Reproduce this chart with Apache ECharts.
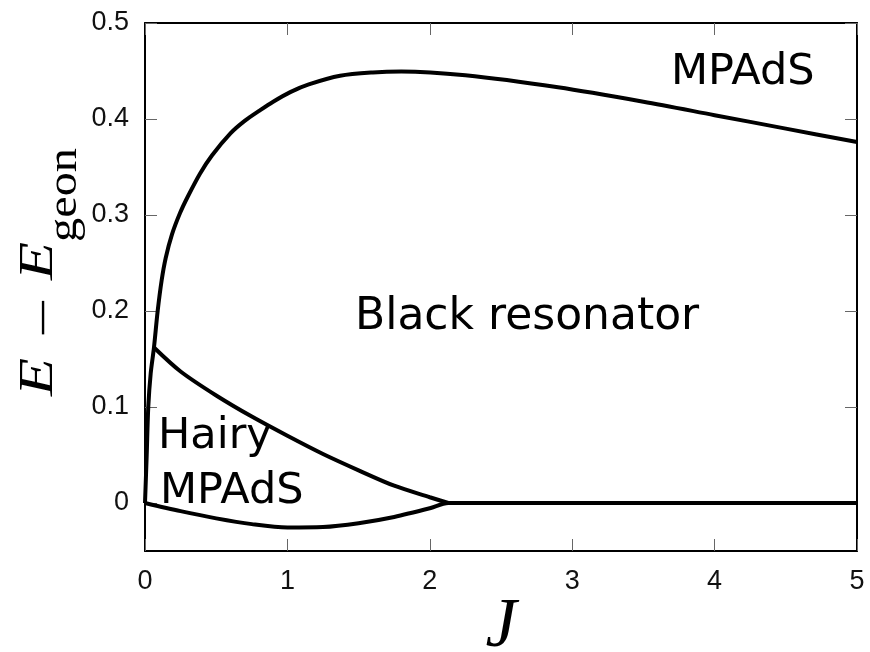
<!DOCTYPE html>
<html>
<head>
<meta charset="utf-8">
<script src="https://cdn.jsdelivr.net/npm/echarts@6/dist/echarts.min.js"></script>
<style>
  html, body { margin: 0; padding: 0; background: #fff; }
  #chart { width: 870px; height: 652px; }
</style>
</head>
<body>
<div id="chart"></div>
<script>
// Phase boundaries in the (J, E - E_geon) plane
const xTicks = [0, 1, 2, 3, 4, 5];
const yTicks = [0, 0.1, 0.2, 0.3, 0.4, 0.5];

// Upper boundary: black resonators below, MPAdS above
const mpadsJ = [0, 0.012, 0.023, 0.04, 0.063, 0.089, 0.117, 0.145, 0.19, 0.246, 0.3, 0.386, 0.47, 0.6, 0.7, 0.807, 0.9, 1.02, 1.15, 1.37, 1.6, 1.8, 2.25, 2.9, 3.5, 4, 4.5, 5];
const mpadsE = [0, 0.05, 0.1, 0.135, 0.162, 0.2, 0.232, 0.255, 0.28, 0.302, 0.319, 0.343, 0.362, 0.385, 0.398, 0.409, 0.418, 0.428, 0.436, 0.445, 0.4485, 0.4495, 0.4455, 0.433, 0.418, 0.404, 0.39, 0.376];

// Upper edge of the hairy MPAdS region
const hairyTopJ = [0.063, 0.25, 0.5, 0.75, 1.0, 1.25, 1.5, 1.75, 2.0, 2.13];
const hairyTopE = [0.162, 0.137, 0.112, 0.09, 0.07, 0.051, 0.034, 0.018, 0.006, 0];

// Lower edge of the hairy region, continuing along E = E_geon
const hairyBotJ = [0, 0.25, 0.5, 0.75, 1.0, 1.25, 1.5, 1.75, 2.0, 2.13, 5];
const hairyBotE = [0, -0.0085, -0.016, -0.022, -0.0255, -0.025, -0.021, -0.0145, -0.0055, 0, 0];

const zip = (xs, ys) => xs.map((x, i) => [x, ys[i]]);

const tickStyle = { show: true, inside: true, length: 12, lineStyle: { color: '#666', width: 1 } };
const lineAxis = { show: true, onZero: false, lineStyle: { color: '#000', width: 2 } };
const labelFont = { fontFamily: 'Liberation Sans', fontSize: 27, color: '#111' };

const chart = echarts.init(document.getElementById('chart'), null, { renderer: 'canvas' });

const curve = (data) => ({
  type: 'line',
  data: data,
  showSymbol: false,
  smooth: 0.3,
  lineStyle: { color: '#000', width: 4 },
  animation: false
});

chart.setOption({
  animation: false,
  backgroundColor: '#fff',
  grid: { left: 145, right: 13, top: 23, bottom: 101, containLabel: false },
  xAxis: [
    {
      type: 'value', min: 0, max: 5, interval: 1, position: 'bottom',
      axisLine: lineAxis, axisTick: tickStyle, splitLine: { show: false },
      axisLabel: Object.assign({ margin: 17, customValues: xTicks }, labelFont)
    },
    {
      type: 'value', min: 0, max: 5, interval: 1, position: 'top',
      axisLine: lineAxis, axisTick: tickStyle, splitLine: { show: false },
      axisLabel: { show: false }
    }
  ],
  yAxis: [
    {
      type: 'value', min: -0.05, max: 0.5, position: 'left',
      axisLine: lineAxis,
      axisTick: Object.assign({ customValues: yTicks }, tickStyle),
      splitLine: { show: false },
      axisLabel: Object.assign({ margin: 16, customValues: yTicks, formatter: v => String(+v.toFixed(2)) }, labelFont)
    },
    {
      type: 'value', min: -0.05, max: 0.5, position: 'right',
      axisLine: lineAxis,
      axisTick: Object.assign({ customValues: yTicks }, tickStyle),
      splitLine: { show: false },
      axisLabel: { show: false }
    }
  ],
  series: [
    curve(zip(mpadsJ, mpadsE)),
    curve(zip(hairyTopJ, hairyTopE)),
    curve(zip(hairyBotJ, hairyBotE))
  ],
  graphic: [
    // region names
    { type: 'text', style: { text: 'Black resonator', x: 355, y: 318, font: '44px "DejaVu Sans"', fill: '#000', verticalAlign: 'middle' } },
    { type: 'text', style: { text: 'MPAdS', x: 671, y: 73, font: '43px "DejaVu Sans"', fill: '#000', verticalAlign: 'middle' } },
    { type: 'text', style: { text: 'Hairy', x: 158, y: 437, font: '43px "DejaVu Sans"', fill: '#000', verticalAlign: 'middle' } },
    { type: 'text', style: { text: 'MPAdS', x: 160, y: 492, font: '43px "DejaVu Sans"', fill: '#000', verticalAlign: 'middle' } },
    // x-axis title
    { type: 'text', style: { text: 'J', x: 501, y: 628, font: 'italic 70px "Liberation Serif"', fill: '#000', align: 'center', verticalAlign: 'middle' } },
    // y-axis title, read bottom to top: E − E_geon
    { type: 'text', x: 39, y: 377, rotation: Math.PI / 2, scaleX: 1.3, style: { text: 'E', x: 0, y: 0, font: 'italic 48px "Liberation Serif"', fill: '#000', align: 'center', verticalAlign: 'middle' } },
    { type: 'text', x: 46, y: 318, rotation: Math.PI / 2, scaleX: 1.5, style: { text: '\u2212', x: 0, y: 0, font: '48px "Liberation Serif"', fill: '#000', align: 'center', verticalAlign: 'middle' } },
    { type: 'text', x: 39, y: 261, rotation: Math.PI / 2, scaleX: 1.3, style: { text: 'E', x: 0, y: 0, font: 'italic 48px "Liberation Serif"', fill: '#000', align: 'center', verticalAlign: 'middle' } },
    { type: 'text', x: 65, y: 195, rotation: Math.PI / 2, scaleX: 1.15, style: { text: 'geon', x: 0, y: 0, font: '42px "Liberation Serif"', fill: '#000', align: 'center', verticalAlign: 'middle' } }
  ]
});
</script>
</body>
</html>
